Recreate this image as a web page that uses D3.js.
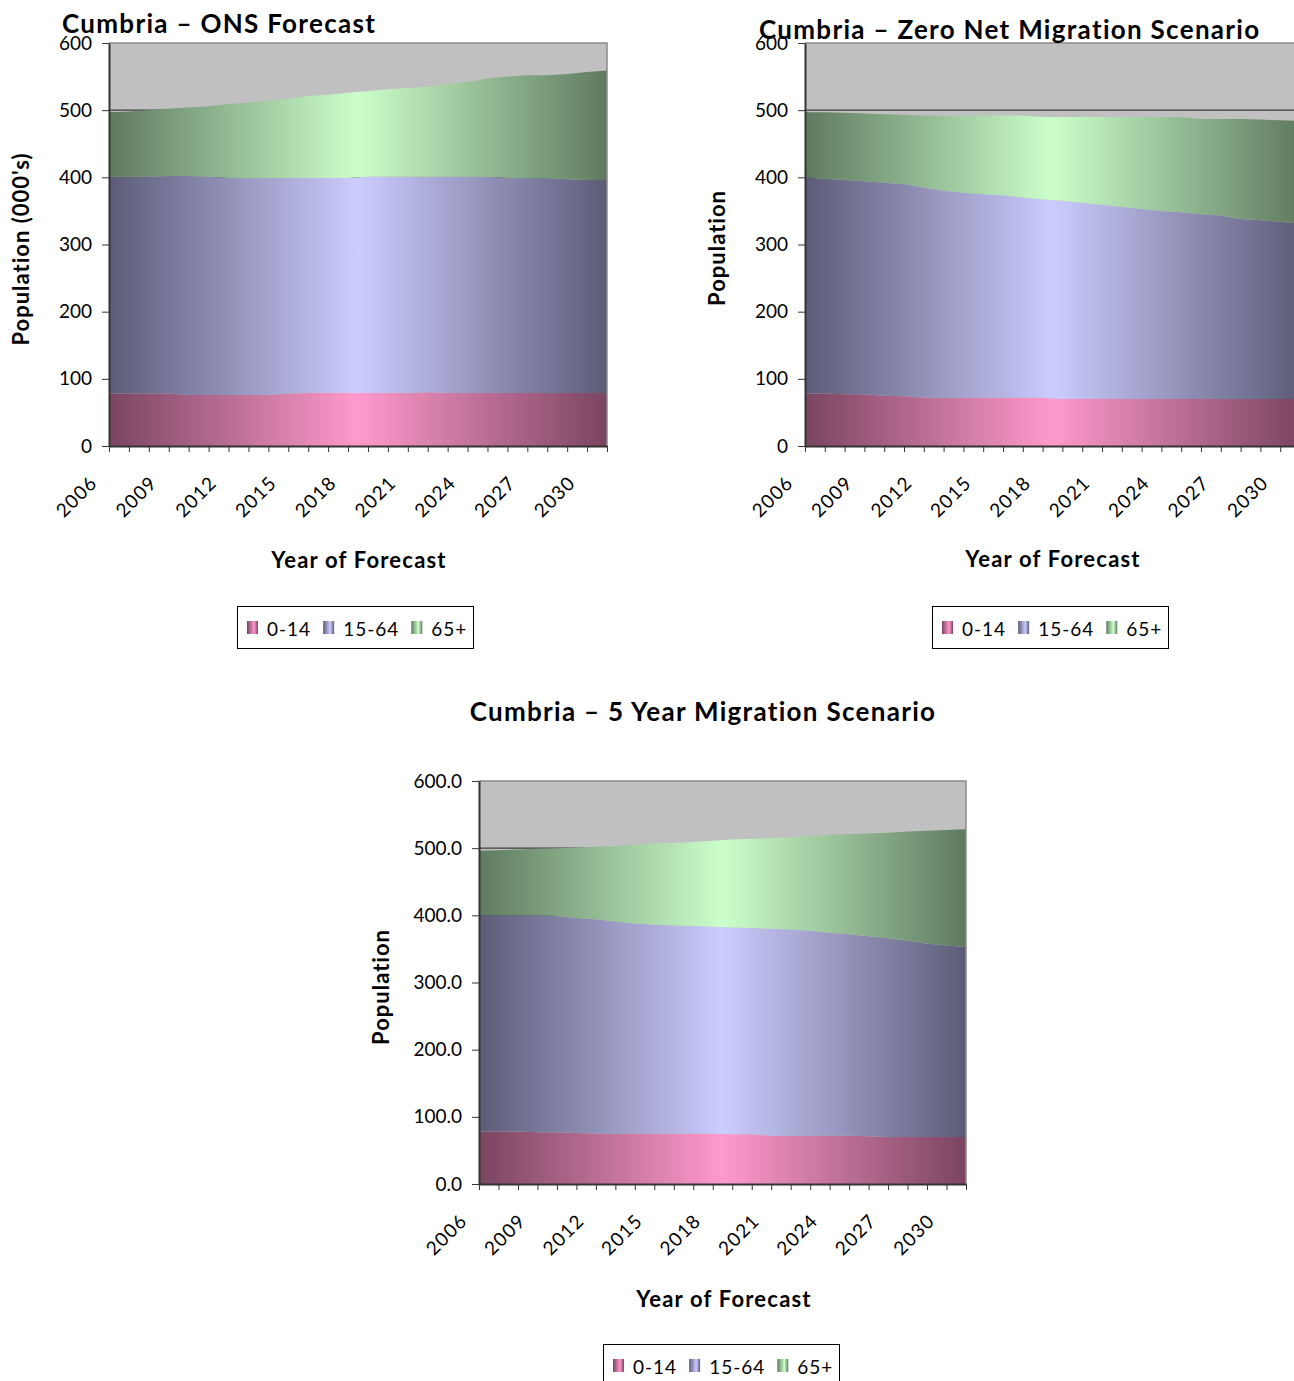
<!DOCTYPE html>
<html>
<head>
<meta charset="utf-8">
<script src="https://cdn.jsdelivr.net/npm/d3@7"></script>
<style>
  html, body { margin: 0; padding: 0; background: #fff; }
  svg { display: block; font-family: Lato, "Open Sans", sans-serif; }
</style>
</head>
<body>
<svg id="chart" width="1294" height="1381"></svg>
<script>
// Forecast years (categories on the x axis)
const years = [2006, 2007, 2008, 2009, 2010, 2011, 2012, 2013, 2014, 2015, 2016, 2017, 2018,
               2019, 2020, 2021, 2022, 2023, 2024, 2025, 2026, 2027, 2028, 2029, 2030, 2031];
const labelledYears = [2006, 2009, 2012, 2015, 2018, 2021, 2024, 2027, 2030];
const ageGroups = ["0-14", "15-64", "65+"];
const populationTicks = [0, 100, 200, 300, 400, 500, 600];

// ONS forecast, population in thousands
const onsAge0to14  = [78, 78, 78, 78, 76, 76, 76, 76, 76, 78, 79, 79, 79, 79, 79, 79, 80, 79, 79, 79, 79, 79, 79, 79, 79, 79];
const onsAge15to64 = [323, 323, 323, 324, 326, 325, 323, 323, 323, 321, 320, 320, 320, 322, 322, 322, 321, 322, 322, 322, 320, 320, 320, 318, 317, 317];
const onsAge65plus = [96, 97, 99, 100, 102, 105, 110, 112, 115, 118, 122, 124, 127, 127, 130, 132, 134, 138, 141, 146, 151, 153, 153, 157, 161, 163];

// Zero net migration scenario
const zeroAge0to14  = [78, 78, 77, 77, 75, 74, 72, 72, 72, 72, 72, 72, 72, 70, 70, 70, 70, 70, 70, 70, 70, 70, 70, 70, 70, 70];
const zeroAge15to64 = [322, 320, 319, 317, 317, 316, 313, 308, 305, 303, 301, 298, 295, 295, 292, 289, 286, 283, 280, 278, 275, 273, 268, 266, 264, 261];
const zeroAge65plus = [97, 99, 100, 101, 102, 103, 107, 112, 115, 117, 119, 122, 123, 125, 128, 131, 134, 137, 140, 142, 142, 144, 149, 150, 151, 153];

// 5 year migration scenario
const fiveAge0to14  = [78, 78, 78, 77, 77, 76, 75, 75, 75, 75, 75, 75, 75, 74, 74, 72, 72, 72, 72, 72, 71, 70, 70, 70, 70, 70];
const fiveAge15to64 = [322, 322, 322, 323, 322, 320, 319, 316, 313, 311, 310, 309, 308, 308, 307, 308, 307, 305, 302, 300, 298, 296, 292, 288, 285, 283];
const fiveAge65plus = [96, 97, 98, 99, 101, 105, 108, 112, 117, 121, 123, 125, 128, 131, 133, 135, 137, 141, 146, 149, 153, 157, 163, 168, 172, 175];

// Fill colours: dark edge tone and light centre tone for each age group
const edgeColors   = ["#7a4560", "#5c5c78", "#5f7a5f"];
const centreColors = ["#ff99cc", "#ccccff", "#ccffcc"];

const svg = d3.select("#chart");
const defs = svg.append("defs");

// Shared swatch gradients for the legends
ageGroups.forEach((g, i) => {
  const lg = defs.append("linearGradient").attr("id", "swatch-" + i)
    .attr("x1", 0).attr("x2", 1).attr("y1", 0).attr("y2", 0);
  lg.append("stop").attr("offset", 0).attr("stop-color", edgeColors[i]);
  lg.append("stop").attr("offset", 0.65).attr("stop-color", centreColors[i]);
  lg.append("stop").attr("offset", 1).attr("stop-color", edgeColors[i]);
});

function drawPanel(opt) {
  const g = svg.append("g");
  const x = d3.scalePoint().domain(years).range([opt.left, opt.right]).padding(0);
  const y = d3.scaleLinear().domain([0, 600]).range([opt.bottom, opt.top]);

  // horizontal gradients across the plot width
  ageGroups.forEach((grp, i) => {
    const lg = defs.append("linearGradient").attr("id", opt.id + "-fill-" + i)
      .attr("gradientUnits", "userSpaceOnUse")
      .attr("x1", opt.left).attr("x2", opt.right).attr("y1", 0).attr("y2", 0);
    lg.append("stop").attr("offset", 0).attr("stop-color", edgeColors[i]);
    lg.append("stop").attr("offset", 0.5).attr("stop-color", centreColors[i]);
    lg.append("stop").attr("offset", 1).attr("stop-color", edgeColors[i]);
  });

  // plot background
  g.append("rect")
    .attr("x", opt.left).attr("y", opt.top)
    .attr("width", opt.right - opt.left).attr("height", opt.bottom - opt.top)
    .attr("fill", "#c0c0c0");

  // gridlines, drawn underneath the areas
  g.selectAll("line.grid")
    .data(populationTicks.filter(v => v > 0 && v < 600))
    .join("line")
    .attr("x1", opt.left).attr("x2", opt.right)
    .attr("y1", d => y(d)).attr("y2", d => y(d))
    .attr("stroke", "#3c3c3c").attr("stroke-width", 1.2);

  // stacked areas
  const rows = years.map((yr, i) => ({
    year: yr,
    "0-14": opt.series[0][i],
    "15-64": opt.series[1][i],
    "65+": opt.series[2][i]
  }));
  const layers = d3.stack().keys(ageGroups)(rows);
  const area = d3.area()
    .x(d => x(d.data.year))
    .y0(d => y(d[0]))
    .y1(d => y(d[1]));
  g.selectAll("path.layer")
    .data(layers)
    .join("path")
    .attr("class", "layer")
    .attr("d", area)
    .attr("fill", (d, i) => `url(#${opt.id}-fill-${i})`);

  // top and right border of the plot area
  g.append("path")
    .attr("d", `M${opt.left},${opt.top}H${opt.right}V${opt.bottom}`)
    .attr("fill", "none").attr("stroke", "#8a8a8a").attr("stroke-width", 1.5);

  // y axis
  const yAxis = g.append("g")
    .attr("transform", `translate(${opt.left},0)`)
    .call(d3.axisLeft(y).tickValues(populationTicks).tickSize(7).tickSizeOuter(0)
      .tickPadding(10).tickFormat(opt.yFormat));
  yAxis.select(".domain").attr("stroke", "#333").attr("stroke-width", 2);
  yAxis.selectAll(".tick line").attr("stroke", "#333").attr("stroke-width", 1);
  yAxis.selectAll(".tick text")
    .attr("fill", "#000").style("font-size", "19px").style("font-family", "Lato, sans-serif");

  // x axis
  const xAxis = g.append("g")
    .attr("transform", `translate(0,${opt.bottom})`)
    .call(d3.axisBottom(x).tickSize(6).tickSizeOuter(0)
      .tickFormat(d => labelledYears.includes(d) ? String(d) : ""));
  xAxis.select(".domain").attr("stroke", "#333").attr("stroke-width", 2);
  xAxis.selectAll(".tick line").attr("stroke", "#333").attr("stroke-width", 1);
  xAxis.selectAll(".tick text")
    .attr("x", 0).attr("y", 0).attr("dy", 0)
    .attr("text-anchor", "end")
    .attr("transform", "translate(-11,38) rotate(-45)")
    .attr("fill", "#000").style("font-size", "19px").style("letter-spacing", "1.2px")
    .style("font-family", "Lato, sans-serif");

  // chart title
  svg.append("text")
    .attr("x", opt.titleX).attr("y", opt.titleY)
    .attr("text-anchor", opt.titleAnchor)
    .style("font-size", "26px").style("font-weight", "bold").style("letter-spacing", "1.3px")
    .text(opt.title);

  // axis titles
  svg.append("text")
    .attr("transform", `translate(${opt.yTitleX},${opt.yTitleY}) rotate(-90)`)
    .attr("text-anchor", "middle").attr("dy", "0.35em")
    .style("font-size", "22px").style("font-weight", "bold").style("letter-spacing", "1px")
    .text(opt.yTitle);
  svg.append("text")
    .attr("x", opt.xTitleX).attr("y", opt.xTitleY)
    .attr("text-anchor", "middle")
    .style("font-size", "22px").style("font-weight", "bold").style("letter-spacing", "1.2px")
    .text("Year of Forecast");

  // legend
  const lg = svg.append("g").attr("transform", `translate(${opt.legendX},${opt.legendY})`);
  lg.append("rect").attr("x", 0.5).attr("y", 0.5).attr("width", 236).attr("height", 42)
    .attr("fill", "#fff").attr("stroke", "#000").attr("stroke-width", 1);
  let cx = 10;
  ageGroups.forEach((grp, i) => {
    lg.append("rect").attr("x", cx).attr("y", 15).attr("width", 11).attr("height", 13)
      .attr("fill", `url(#swatch-${i})`);
    const t = lg.append("text").attr("x", cx + 20).attr("y", 30)
      .style("font-size", "19px").style("letter-spacing", "1px").text(grp);
    cx += 20 + t.node().getComputedTextLength() + 12;
  });
}

drawPanel({
  id: "ons", title: "Cumbria \u2013 ONS Forecast",
  titleX: 62, titleY: 33, titleAnchor: "start",
  left: 109, right: 607, top: 43, bottom: 446,
  series: [onsAge0to14, onsAge15to64, onsAge65plus],
  yFormat: d3.format("d"),
  yTitle: "Population (000's)", yTitleX: 21, yTitleY: 249,
  xTitleX: 359, xTitleY: 568,
  legendX: 237, legendY: 606
});

drawPanel({
  id: "zero", title: "Cumbria \u2013 Zero Net Migration Scenario",
  titleX: 759, titleY: 39, titleAnchor: "start",
  left: 805, right: 1300, top: 43, bottom: 446,
  series: [zeroAge0to14, zeroAge15to64, zeroAge65plus],
  yFormat: d3.format("d"),
  yTitle: "Population", yTitleX: 717, yTitleY: 248,
  xTitleX: 1053, xTitleY: 567,
  legendX: 932, legendY: 606
});

drawPanel({
  id: "five", title: "Cumbria \u2013 5 Year Migration Scenario",
  titleX: 703, titleY: 721, titleAnchor: "middle",
  left: 479, right: 966, top: 781, bottom: 1184,
  series: [fiveAge0to14, fiveAge15to64, fiveAge65plus],
  yFormat: d3.format(".1f"),
  yTitle: "Population", yTitleX: 381, yTitleY: 987,
  xTitleX: 724, xTitleY: 1307,
  legendX: 603, legendY: 1344
});
</script>
</body>
</html>
